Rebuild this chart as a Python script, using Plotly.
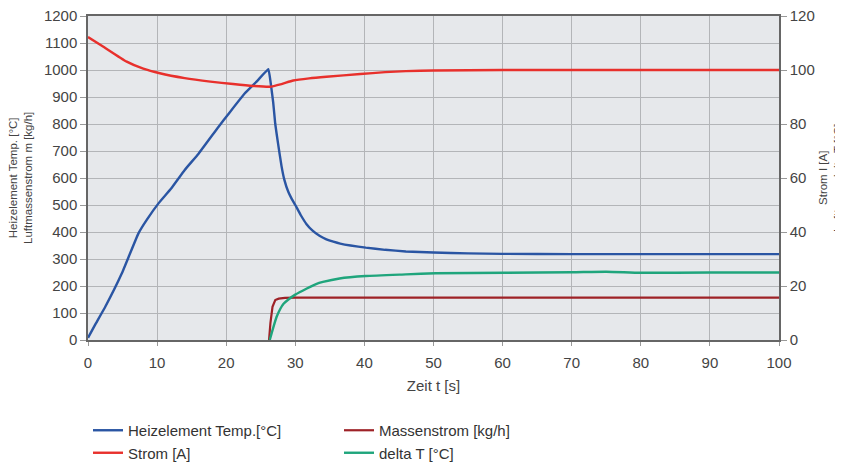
import plotly.graph_objects as go

# ---------------- data ----------------
t_heiz = [0, 1, 2.5, 4.9, 7.3, 8.5, 10.2, 12, 14, 16, 18.9, 20.5, 22.7, 24.5, 26.1,
          26.5, 26.8, 27.1, 27.5, 28.0, 28.4, 29.0, 29.5, 30.0, 30.8, 31.6, 32.5, 33.5,
          34.5, 35.5, 36.5, 38, 40.2, 43, 46, 50, 55, 60, 70, 80, 90, 100]
heiz = [8, 55, 123, 247, 395, 445, 506, 560, 630, 690, 790, 843, 914, 960, 1003,
        940, 880, 800, 728, 645, 595, 548, 522, 500, 462, 430, 405, 386,
        373, 364, 357, 350, 342, 334, 328, 324, 321, 319, 318, 318, 318, 318]

t_strom = [0, 2, 5.6, 8, 10.4, 14, 17.7, 21, 23.9, 26.3, 28, 29.7, 32, 34.5, 39.4,
           43, 46, 50, 60, 70, 80, 90, 100]
strom = [112.2, 109.0, 103.1, 100.5, 98.8, 97.0, 95.7, 94.8, 94.1, 93.8, 94.8, 96.1,
         96.9, 97.5, 98.5, 99.2, 99.6, 99.8, 100.0, 100.0, 100.0, 100.0, 100.0]

t_masse = [26.2, 26.4, 26.7, 27.1, 27.6, 28.5, 30, 40, 50, 60, 70, 80, 90, 100]
masse = [0, 63, 123, 148, 153, 156, 157, 157, 157, 157, 157, 157, 157, 157]

t_delta = [26.3, 26.8, 27.3, 27.8, 28.3, 29.0, 30.0, 31.6, 33.0, 34.0, 36.4, 40.2, 46,
           50.3, 60.4, 70, 75, 80, 90, 100]
delta = [0, 4.5, 8.6, 11.4, 13.4, 15.0, 16.8, 19.0, 20.7, 21.5, 22.8, 23.7, 24.3,
         24.7, 24.9, 25.1, 25.3, 24.9, 25.0, 25.0]

x_ticks = [0, 10, 20, 30, 40, 50, 60, 70, 80, 90, 100]
y_left_ticks = list(range(0, 1201, 100))
y_right_ticks = list(range(0, 121, 20))

names = ["Heizelement Temp.[°C]", "Strom [A]", "Massenstrom [kg/h]", "delta T [°C]"]
colors = ["#2a55a3", "#e8302c", "#9e2227", "#1fa57c"]

FONT = "Liberation Sans, Arial, sans-serif"

fig = go.Figure()
# legend order: row1 Heizelement, Massenstrom ; row2 Strom, delta T
fig.add_trace(go.Scatter(x=t_heiz, y=heiz, name=names[0], mode="lines",
                         line=dict(color=colors[0], width=2.4, shape="spline", smoothing=0.3),
                         yaxis="y"))
fig.add_trace(go.Scatter(x=t_masse, y=masse, name=names[2], mode="lines",
                         line=dict(color=colors[2], width=2.2), yaxis="y"))
fig.add_trace(go.Scatter(x=t_strom, y=strom, name=names[1], mode="lines",
                         line=dict(color=colors[1], width=2.4, shape="spline", smoothing=0.5),
                         yaxis="y2"))
fig.add_trace(go.Scatter(x=t_delta, y=delta, name=names[3], mode="lines",
                         line=dict(color=colors[3], width=2.4, shape="spline", smoothing=0.5),
                         yaxis="y2"))

# figure is 835x460 so that, with the page's 8px body margin, it fills the 843x468 window
fig.update_layout(
    width=835, height=460,
    margin=dict(l=80, r=64, t=8, b=128),
    paper_bgcolor="white",
    plot_bgcolor="#e6e8eb",
    font=dict(family=FONT, size=15, color="#444444"),
    xaxis=dict(range=[0, 100], tickvals=x_ticks, showgrid=True, gridcolor="#b3b5b8",
               gridwidth=1, zeroline=False, showline=True, linecolor="#666666",
               linewidth=1.5, mirror=True, ticks="outside", ticklen=4, tickcolor="#999999",
               ticklabelstandoff=4, automargin=False, ticklabeloverflow="allow",
               title=dict(text="Zeit t [s]", standoff=11, font=dict(size=15))),
    yaxis=dict(range=[0, 1200], tickvals=y_left_ticks, showgrid=True, gridcolor="#b3b5b8",
               gridwidth=1, zeroline=False, showline=True, linecolor="#666666",
               linewidth=1.5, ticks="outside", ticklen=6, tickcolor="#999999",
               automargin=False, ticklabeloverflow="allow"),
    yaxis2=dict(range=[0, 120], tickvals=y_right_ticks, overlaying="y", side="right",
                showgrid=False, zeroline=False, showline=True, linecolor="#666666",
                linewidth=1.5, ticks="outside", ticklen=6, tickcolor="#999999",
                automargin=False, ticklabeloverflow="allow"),
    legend=dict(orientation="h", x=0, xanchor="left", yref="container", y=1 - 406 / 460,
                yanchor="top", entrywidth=206, font=dict(size=15, color="#333333"),
                bgcolor="rgba(0,0,0,0)", itemwidth=30, tracegroupgap=0),
    showlegend=True,
)

fig.add_annotation(text="Heizelement Temp. [°C]<br>Luftmassenstrom m [kg/h]",
                   xref="paper", yref="paper", x=0, y=0.5, xshift=-68, xanchor="center",
                   textangle=-90, showarrow=False, font=dict(size=11.5, color="#444444"))
fig.add_annotation(text="Strom I [A]<br>Lufttemp. delta T [°C]",
                   xref="paper", yref="paper", x=1, y=0.5, xshift=51, xanchor="center",
                   textangle=-90, showarrow=False, font=dict(size=11.5, color="#444444"))

fig.write_html("out.html")
